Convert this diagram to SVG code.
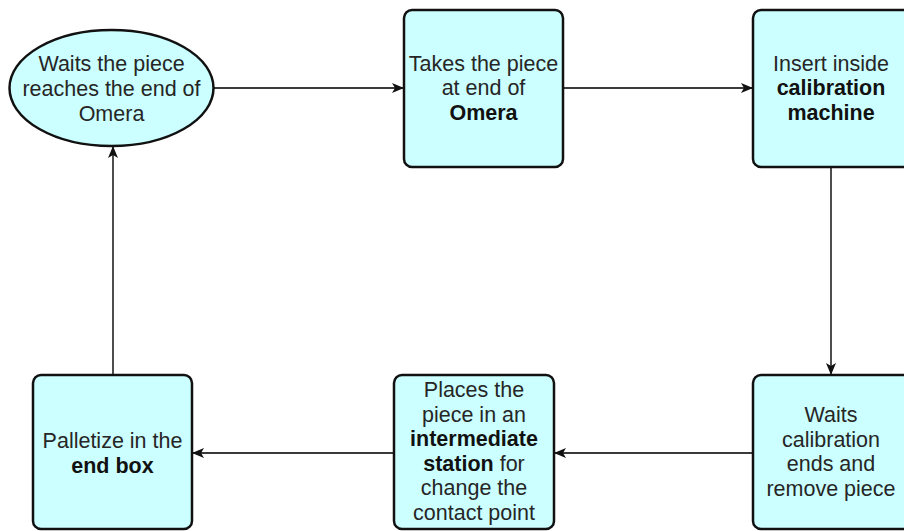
<svg xmlns="http://www.w3.org/2000/svg" width="904" height="531" viewBox="0 0 904 531">
  <style>
    .node { fill: #ccffff; stroke: #111; stroke-width: 2.5; }
    .lbl { font-family: "Liberation Sans", Arial, sans-serif; font-size: 21.5px; fill: #262626; text-anchor: middle; }
    .b { font-weight: bold; fill: #111; }
    .edge { fill: none; stroke: #3a3a3a; stroke-width: 1.8; }
  </style>
  <defs>
    <marker id="arrow" viewBox="0 0 12 12" refX="12" refY="6" markerWidth="12" markerHeight="12" markerUnits="userSpaceOnUse" orient="auto">
      <path d="M0,1 L12,6 L0,11 L3,6 Z" fill="#111"/>
    </marker>
  </defs>
  <rect width="904" height="531" fill="#ffffff"/>

  <g id="connectors">
    <line class="edge" x1="214" y1="88" x2="404" y2="88" marker-end="url(#arrow)"/>
    <line class="edge" x1="563" y1="88" x2="753" y2="88" marker-end="url(#arrow)"/>
    <line class="edge" x1="831" y1="167" x2="831" y2="375" marker-end="url(#arrow)"/>
    <line class="edge" x1="753" y1="453" x2="554" y2="453" marker-end="url(#arrow)"/>
    <line class="edge" x1="394" y1="453" x2="192" y2="453" marker-end="url(#arrow)"/>
    <line class="edge" x1="113" y1="375" x2="113" y2="146" marker-end="url(#arrow)"/>
  </g>

  <g id="wait-omera">
    <ellipse class="node" cx="111.5" cy="88" rx="102" ry="58"/>
    <text class="lbl" x="111.5" y="71">Waits the piece</text>
    <text class="lbl" x="111.5" y="96">reaches the end of</text>
    <text class="lbl" x="111.5" y="121">Omera</text>
  </g>

  <g id="take-piece">
    <rect class="node" x="404" y="10" width="159" height="157" rx="8"/>
    <text class="lbl" x="483.5" y="70.5">Takes the piece</text>
    <text class="lbl" x="483.5" y="95">at end of</text>
    <text class="lbl b" x="483.5" y="119.5">Omera</text>
  </g>

  <g id="insert-calibration">
    <rect class="node" x="753" y="10" width="159" height="157" rx="8"/>
    <text class="lbl" x="831" y="70.5">Insert inside</text>
    <text class="lbl b" x="831" y="95">calibration</text>
    <text class="lbl b" x="831" y="119.5">machine</text>
  </g>

  <g id="wait-calibration">
    <rect class="node" x="753" y="375" width="159" height="154" rx="8"/>
    <text class="lbl" x="831" y="422">Waits</text>
    <text class="lbl" x="831" y="446.5">calibration</text>
    <text class="lbl" x="831" y="471">ends and</text>
    <text class="lbl" x="831" y="495.5">remove piece</text>
  </g>

  <g id="intermediate-station">
    <rect class="node" x="394" y="375" width="160" height="154" rx="8"/>
    <text class="lbl" x="474" y="397">Places the</text>
    <text class="lbl" x="474" y="421.5">piece in an</text>
    <text class="lbl b" x="474" y="446">intermediate</text>
    <text class="lbl" x="474" y="470.5"><tspan class="b">station</tspan> for</text>
    <text class="lbl" x="474" y="495">change the</text>
    <text class="lbl" x="474" y="519.5">contact point</text>
  </g>

  <g id="palletize">
    <rect class="node" x="33" y="375" width="159" height="154" rx="8"/>
    <text class="lbl" x="112.5" y="448">Palletize in the</text>
    <text class="lbl b" x="112.5" y="472.5">end box</text>
  </g>
</svg>
